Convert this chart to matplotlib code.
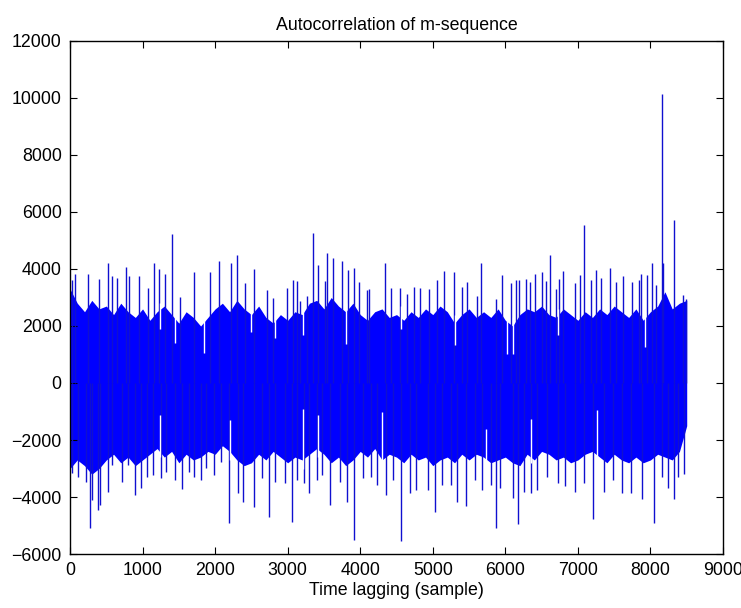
import numpy as np
from matplotlib import pyplot as plt

# solid core of the correlation band (every 100 lags)
core_lag = np.arange(0, 8501, 100)
core_hi = [3300, 2800, 2500, 2900, 2600, 2700, 2400, 2800, 2500, 2300,
           2600, 2200, 2500, 2700, 2400, 2100, 2500, 2300, 2000, 2300,
           2600, 2800, 2500, 2900, 2600, 2400, 2700, 2300, 2100, 2400,
           2200, 2500, 2400, 2800, 2900, 2600, 3000, 2700, 2500, 2800,
           2400, 2200, 2500, 2600, 2300, 2400, 2200, 2500, 2300, 2600,
           2400, 2700, 2500, 2100, 2400, 2600, 2300, 2500, 2300, 2600,
           2200, 2000, 2400, 2600, 2500, 2700, 2400, 2300, 2600, 2400,
           2200, 2500, 2300, 2600, 2400, 2700, 2500, 2300, 2600, 2200,
           2500, 2700, 3200, 2600, 2800, 2900]
core_lo = [-3000, -2700, -2900, -3200, -3000, -2700, -2500, -2800, -2600, -2900,
           -2700, -2500, -2300, -2600, -2400, -2800, -2500, -2700, -2600, -2400,
           -2500, -2200, -2400, -2700, -2900, -2800, -2500, -2700, -2400, -2600,
           -2800, -2600, -2700, -2500, -2300, -2500, -2800, -2600, -2900, -2700,
           -2400, -2600, -2300, -2700, -2500, -2600, -2800, -2500, -2700, -2600,
           -2900, -2700, -2600, -2800, -2500, -2700, -2500, -2600, -2800, -2700,
           -2600, -2800, -2900, -2500, -2700, -2400, -2500, -2700, -2600, -2800,
           -2700, -2500, -2400, -2600, -2800, -2500, -2700, -2800, -2600, -2800,
           -2700, -2500, -2600, -2700, -2400, -1500]

# positive spikes (lag, value)
lag_hi = [23, 69, 253, 405, 520, 575, 644, 767, 818, 952, 1081, 1164, 1233, 1311, 1399,
          1518, 1707, 1930, 2059, 2220, 2307, 2411, 2535, 2710, 2802, 2986, 3067, 3131,
          3170, 3261, 3343, 3420, 3508, 3544, 3627, 3751, 3834, 3917, 3986, 4088, 4120,
          4340, 4428, 4547, 4640, 4740, 4820, 4947, 5062, 5154, 5292, 5400, 5475, 5610,
          5661, 5870, 5951, 6079, 6150, 6190, 6285, 6340, 6409, 6510, 6555, 6611, 6694,
          6740, 6795, 6956, 7025, 7085, 7177, 7256, 7315, 7440, 7522, 7623, 7751, 7839,
          7876, 7959, 8023, 8083, 8166, 8175, 8330, 8445, 8490]
peak_hi = [3610, 3810, 3810, 3640, 4220, 3740, 3680, 4070, 3740, 3740, 3320, 4220, 4000, 3810, 5230,
           3030, 3910, 3910, 4280, 4220, 4490, 3520, 4000, 3270, 2980, 3320, 3610, 3590,
           2870, 3060, 5270, 4140, 3590, 4550, 4370, 4280, 3960, 4020, 3560, 3270, 3290,
           4200, 3320, 3320, 3130, 3380, 3320, 3290, 3610, 3930, 3910, 3380, 3540, 3060,
           4200, 2940, 3790, 3500, 3600, 3600, 3640, 3560, 3810, 3910, 3590, 4490, 3290,
           3640, 3930, 3500, 3790, 5540, 3600, 3960, 3700, 4020, 3560, 3740, 3560, 3600,
           3810, 3790, 4200, 3440, 10130, 4200, 5720, 3100, 2950]

# negative spikes (lag, value)
lag_lo = [23, 115, 216, 276, 299, 382, 410, 520, 575, 713, 800, 897, 980, 1060, 1150,
          1260, 1325, 1447, 1540, 1640, 1710, 1800, 1880, 1990, 2080, 2196, 2320, 2390,
          2540, 2640, 2744, 2830, 2960, 3056, 3130, 3230, 3300, 3400, 3470, 3584, 3720,
          3813, 3917, 4040, 4150, 4235, 4355, 4450, 4561, 4685, 4770, 4935, 5030, 5130,
          5250, 5330, 5458, 5580, 5680, 5800, 5868, 5920, 6100, 6181, 6260, 6360, 6440,
          6580, 6730, 6820, 6960, 7090, 7207, 7360, 7490, 7610, 7730, 7890, 8043, 8160,
          8240, 8320, 8385, 8460]
peak_lo = [-3170, -3290, -3460, -5100, -4100, -4460, -4280, -3810, -2880, -3460, -2880, -3930, -3700, -3290, -3230,
           -3340, -3110, -3400, -3730, -3110, -3310, -3400, -2990, -3230, -2760, -4920, -3870, -4160,
           -4360, -3340, -4700, -3460, -3520, -4860, -3400, -3520, -3870, -3400, -3230, -4280, -3460,
           -4160, -5510, -3340, -3290, -3580, -3930, -3400, -5530, -3870, -3750, -3750, -4510, -3580,
           -3580, -4160, -4330, -3400, -3750, -3580, -5080, -3700, -4040, -4950, -3810, -3870, -3750,
           -3290, -3500, -3610, -3840, -3500, -4780, -3810, -3400, -3870, -3870, -4080, -4910, -3290,
           -3700, -4080, -3290, -3200]

# thin gaps reaching into the core from above / below (lag, depth)
gap_lag_top = [1240, 1450, 1847, 2500, 2820, 3210, 3810, 4560, 5300, 6020, 6100, 6720, 7930]
gap_top = [1900, 1400, 1050, 1800, 1580, 1700, 1370, 1900, 1330, 1000, 1000, 1700, 1250]
gap_lag_bot = [1240, 2205, 3210, 3420, 4300, 5730, 6350, 7270]
gap_bot = [-1120, -1300, -910, -1120, -1000, -1600, -1250, -950]

plt.rcParams['font.family'] = ['Liberation Sans', 'DejaVu Sans']
plt.rcParams['font.size'] = 12.8

fig = plt.figure(figsize=(7.41, 6.08), dpi=100)
ax = fig.add_axes([0.0945, 0.0888, 0.8812, 0.8438])

ax.fill_between(core_lag, core_lo, core_hi, color='#0000ff', linewidth=0)
ax.vlines(lag_hi, 0, peak_hi, color='#1010d0', linewidth=1.0)
ax.vlines(lag_lo, peak_lo, 0, color='#1010d0', linewidth=1.0)
ax.vlines(gap_lag_top, gap_top, np.array(core_hi)[np.array(gap_lag_top) // 100] + 300,
          color='white', linewidth=1.0)
ax.vlines(gap_lag_bot, np.array(core_lo)[np.array(gap_lag_bot) // 100] - 300, gap_bot,
          color='white', linewidth=1.0)

ax.set_xlim(0, 9000)
ax.set_ylim(-6000, 12000)
ax.set_xticks(np.arange(0, 9001, 1000))
ax.set_yticks(np.arange(-6000, 12001, 2000))
ax.tick_params(direction='in', length=5, top=True, right=True, pad=6)
for s in ax.spines.values():
    s.set_linewidth(1.0)

ax.set_title('Autocorrelation of m-sequence', fontsize=12.8, pad=8)
ax.set_xlabel('Time lagging (sample)', labelpad=2)

fig.savefig('out.png', dpi=100)
